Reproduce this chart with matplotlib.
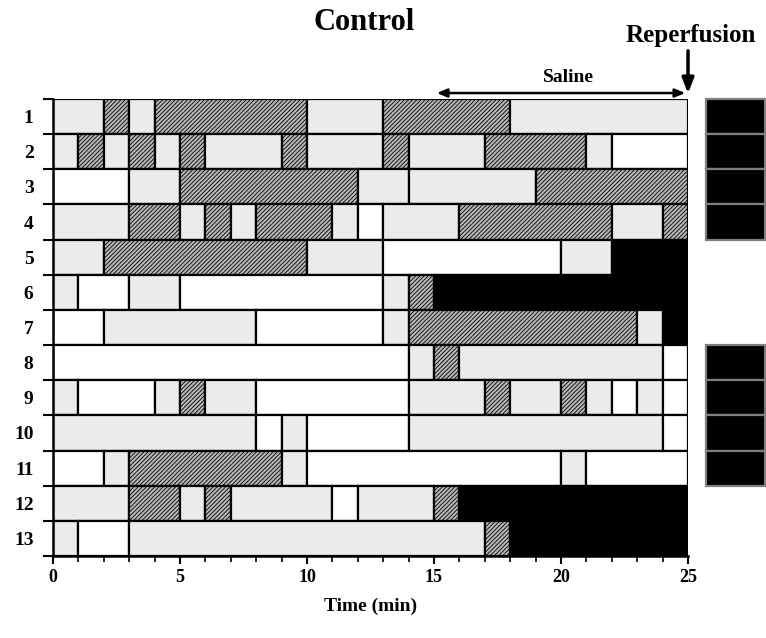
import matplotlib
matplotlib.use('Agg')
import matplotlib.pyplot as plt
from matplotlib.patches import Rectangle

row_labels = [str(i) for i in range(1, 14)]
row_breaks = [
    [0, 2, 3, 4, 10, 13, 18, 25],
    [0, 1, 2, 3, 4, 5, 6, 9, 10, 13, 14, 17, 21, 22, 25],
    [0, 3, 5, 12, 14, 19, 25],
    [0, 3, 5, 6, 7, 8, 11, 12, 13, 16, 22, 24, 25],
    [0, 2, 10, 13, 20, 22, 25],
    [0, 1, 3, 5, 13, 14, 15, 25],
    [0, 2, 8, 13, 14, 23, 24, 25],
    [0, 14, 15, 16, 24, 25],
    [0, 1, 4, 5, 6, 8, 14, 17, 18, 20, 21, 22, 23, 24, 25],
    [0, 8, 9, 10, 14, 24, 25],
    [0, 2, 3, 9, 10, 20, 21, 25],
    [0, 3, 5, 6, 7, 11, 12, 15, 16, 25],
    [0, 1, 3, 17, 18, 25],
]
row_states = [
    "LHLHLHL",
    "LHLHLHLHLHLHLW",
    "WLHLLH",
    "LHLHLHLWLHLH",
    "LHLWLB",
    "LWLWLHB",
    "WLWLHLB",
    "WLHLW",
    "LWLHLWLHLHLWLW",
    "LWLWLW",
    "WLHLWLW",
    "LHLHLWLHB",
    "LWLHB",
]
reperfusion_rows = [1, 2, 3, 4, 8, 9, 10, 11]
xticks_major = [0, 5, 10, 15, 20, 25]
saline_start, saline_end = 15, 25

styles = {
    'L': dict(color='#ebebeb', hatch=None),
    'H': dict(color='#b8b8b8', hatch='////////'),
    'W': dict(color='white', hatch=None),
    'B': dict(color='black', hatch=None),
}

plt.rcParams['font.family'] = ['Liberation Serif', 'DejaVu Serif']
plt.rcParams['font.weight'] = 'bold'
plt.rcParams['hatch.linewidth'] = 0.6

fig = plt.figure(figsize=(7.66, 6.38), dpi=100)
ax = fig.add_axes([0.0692, 0.1285, 0.829, 0.7163])

for i, (brk, st) in enumerate(zip(row_breaks, row_states)):
    for j, s in enumerate(st):
        left, right = brk[j], brk[j + 1]
        sty = styles[s]
        ax.barh(i + 0.5, right - left, left=left, height=1.0,
                color=sty['color'], edgecolor='black', linewidth=1.6,
                hatch=sty['hatch'], zorder=2)

for r in reperfusion_rows:
    ax.add_patch(Rectangle((25.7, r - 1), 2.35, 1.0, facecolor='black',
                           edgecolor='#7f7f7f', linewidth=1.6, clip_on=False, zorder=3))

ax.set_xlim(0, 25)
ax.set_ylim(13, 0)
ax.set_xticks(xticks_major)
ax.set_xticks(range(0, 26), minor=True)
ax.set_xticklabels([str(t) for t in xticks_major], fontsize=13, fontweight='bold')
ax.set_yticks(range(0, 14))
ax.set_yticklabels([])
ax.set_yticks([i + 0.5 for i in range(13)], minor=True)
ax.set_yticklabels(row_labels, minor=True, fontsize=14, fontweight='bold')
ax.tick_params(axis='y', which='major', length=7, width=1.5, direction='out')
ax.tick_params(axis='y', which='minor', length=0, pad=14)
ax.tick_params(axis='x', which='major', length=6, width=1.5, direction='out')
ax.tick_params(axis='x', which='minor', length=4, width=1.2, direction='out')
for side in ['top', 'right']:
    ax.spines[side].set_visible(False)
for side in ['left', 'bottom']:
    ax.spines[side].set_linewidth(1.8)

ax.set_xlabel('Time (min)', fontsize=14, fontweight='bold', labelpad=8)

fig.text(0.476, 0.965, 'Control', ha='center', va='center', fontsize=22, fontweight='bold')
ax.text(25.1, -1.8, 'Reperfusion', ha='center', va='center', fontsize=18, fontweight='bold', clip_on=False)
ax.annotate('', xy=(25.0, -0.08), xytext=(25.0, -1.45),
            arrowprops=dict(arrowstyle='-|>,head_width=0.35,head_length=0.9', lw=2.5, color='black'),
            annotation_clip=False)
ax.annotate('', xy=(saline_start, -0.17), xytext=(saline_end, -0.17),
            arrowprops=dict(arrowstyle='<|-|>,head_width=0.25,head_length=0.6', lw=1.8, color='black'),
            annotation_clip=False)
ax.text(20.3, -0.62, 'Saline', ha='center', va='center', fontsize=14, fontweight='bold', clip_on=False)

fig.savefig('out.png', dpi=100)
